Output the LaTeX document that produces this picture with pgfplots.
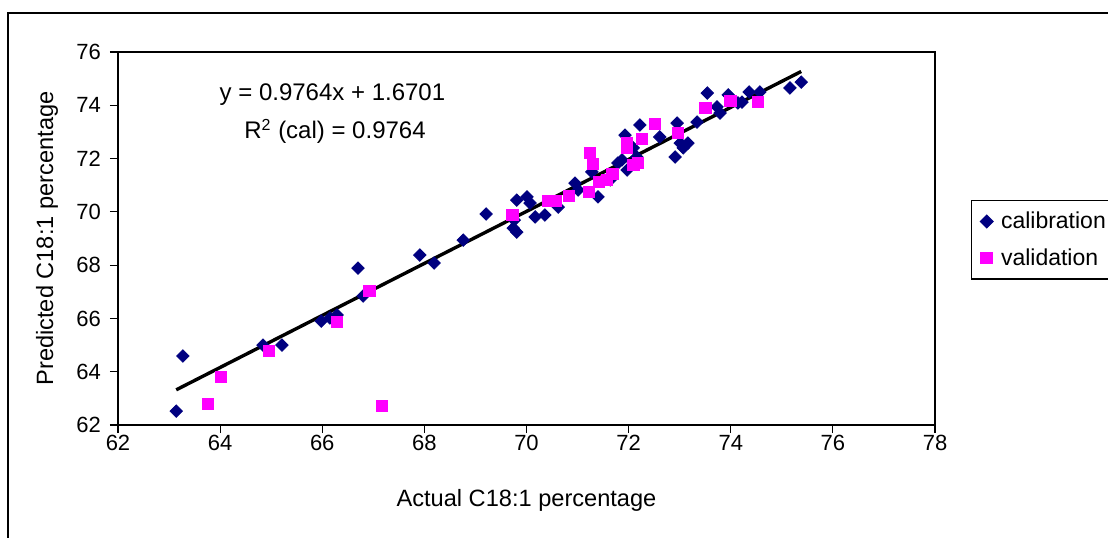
\documentclass[border=0pt]{standalone}
\usepackage{fontspec}
\setmainfont{Liberation Sans}
\usepackage{pgfplots}
\pgfplotsset{compat=1.18}
\definecolor{calib}{HTML}{000080}
\definecolor{valid}{HTML}{FF00FF}

\begin{document}
\begin{tikzpicture}[x=1pt,y=1pt]
\begin{axis}[
  at={(0,0)}, anchor=south west,
  scale only axis, width=408.5pt, height=186.5pt,
  xmin=62, xmax=78, ymin=62, ymax=76,
  xtick={62,64,...,78}, ytick={62,64,...,76},
  tick pos=left, tick align=outside, major tick length=4pt,
  axis line style={black, line width=0.6pt},
  tick style={black, line width=0.6pt},
  /pgf/number format/assume math mode=true,
  ticklabel style={font=\fontsize{11}{12}\selectfont},
  xticklabel style={yshift=2.5pt},
  yticklabel style={xshift=-1pt},
  xlabel={Actual C18:1 percentage},
  ylabel={Predicted C18:1 percentage},
  every axis x label/.style={at={(axis description cs:0.5,-0.201)}, anchor=center,
    font=\fontsize{11.8}{14}\selectfont},
  every axis y label/.style={at={(axis description cs:-0.087,0.5)}, rotate=90, anchor=center,
    font=\fontsize{11.8}{14}\selectfont},
  clip=false,
  legend cell align=left,
  legend style={at={(axis description cs:1.044,0.603)}, anchor=north west,
    draw=black, line width=0.6pt, font=\fontsize{11.5}{13}\selectfont,
    inner xsep=4.5pt, inner ysep=4pt, row sep=5.5pt,
    nodes={inner sep=1.5pt},
    /tikz/every odd column/.append style={column sep=2.5pt}},
  legend image code/.code={\draw[#1] plot coordinates {(0.25cm,0cm)};},
]
\addplot[only marks, mark=square*, mark size=2.2pt, mark options={rotate=45, fill=calib, draw=calib}]
coordinates {
(63.14,62.52) (63.27,64.59) (64.84,65.00) (65.21,65.00) (65.98,65.90)
(66.15,66.02) (66.29,66.13) (66.70,67.89) (66.80,66.84) (67.91,68.38)
(68.19,68.08) (68.76,68.94) (69.21,69.92) (69.74,69.39) (69.81,69.24)
(69.76,69.69) (69.81,70.44) (70.01,70.56) (70.07,70.33) (70.17,69.81)
(70.36,69.88) (70.62,70.18) (70.95,71.08) (71.01,70.82) (71.40,70.56)
(71.28,71.50) (71.64,71.20) (71.97,71.57) (71.79,71.83) (71.87,71.95)
(72.16,72.06) (72.09,72.40) (71.93,72.88) (72.22,73.26) (72.61,72.81)
(72.95,73.33) (73.01,72.58) (73.16,72.58) (73.07,72.40) (72.91,72.06)
(73.34,73.37) (73.54,74.46) (73.73,73.94) (73.79,73.71) (73.95,74.39)
(74.14,74.09) (74.22,74.12) (74.36,74.50) (74.57,74.50) (75.16,74.65)
(75.38,74.87)
};
\addlegendentry{calibration}
\addplot[only marks, mark=square*, mark size=2.85pt, mark options={fill=valid, draw=valid}]
coordinates {
(63.76,62.79) (64.02,63.80) (64.96,64.78) (66.29,65.86) (66.92,67.03)
(67.17,62.71) (69.72,69.88) (70.42,70.41) (70.58,70.41) (70.83,70.59)
(71.22,70.74) (71.24,72.21) (71.30,71.80) (71.42,71.12) (71.58,71.20)
(71.68,71.42) (71.97,72.58) (71.97,72.40) (72.09,71.76) (72.18,71.83)
(72.26,72.73) (72.52,73.30) (72.97,72.96) (73.50,73.90) (73.99,74.16)
(74.53,74.12)
};
\addlegendentry{validation}
% fitted calibration line y = 0.9764x + 1.6701
\addplot[black, line width=1.7pt, forget plot] coordinates {(63.14,63.32) (75.38,75.27)};
\node[font=\fontsize{12}{14}\selectfont] at (axis cs:66.2,74.39) {y = 0.9764x + 1.6701};
\node[font=\fontsize{12}{14}\selectfont] at (axis cs:66.25,73.02) {R\textsuperscript{2} (cal) = 0.9764};
\end{axis}
% chart frame
\draw[line width=1.3pt] (-55,-80) -- (-55,206) -- (520,206);
\pgfresetboundingbox
\useasboundingbox (-59,-56) rectangle (495,212.5);
\end{tikzpicture}
\end{document}
